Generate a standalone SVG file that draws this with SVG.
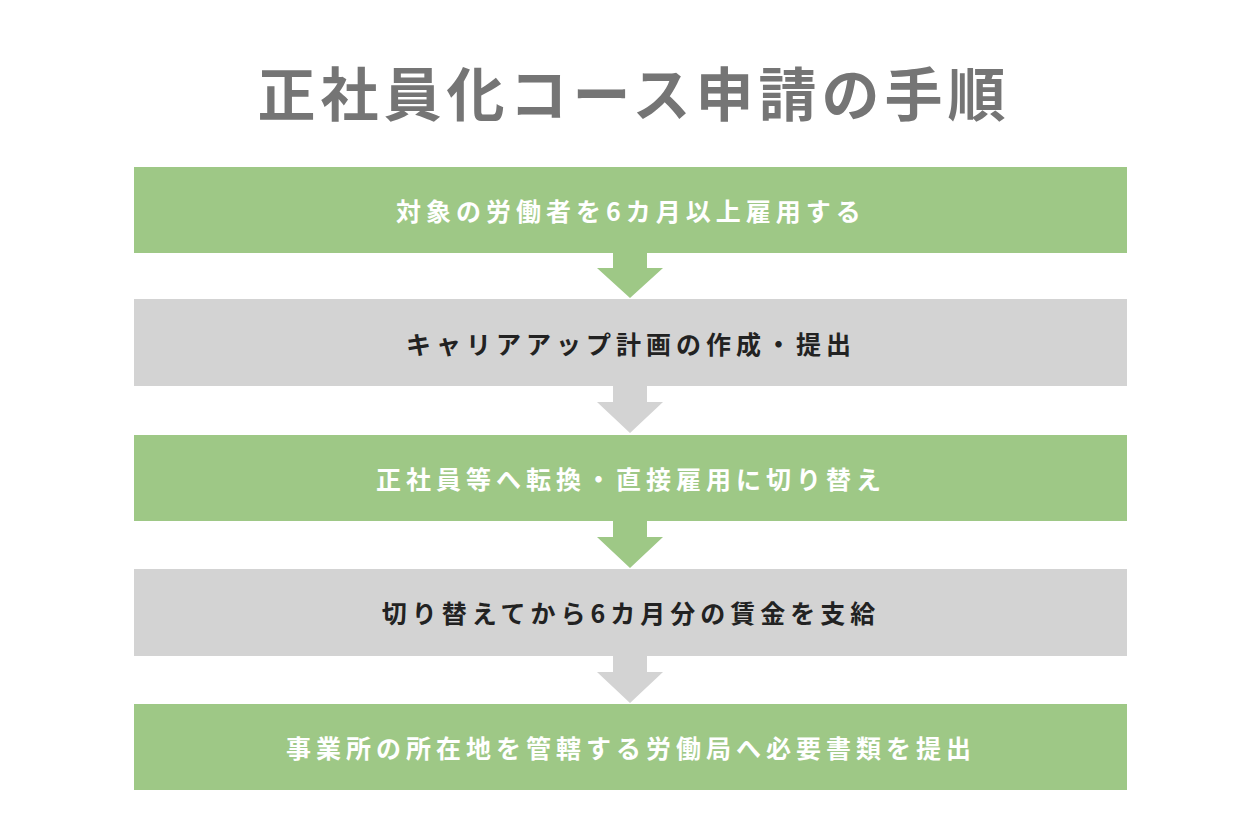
<svg xmlns="http://www.w3.org/2000/svg" width="1260" height="840" viewBox="0 0 1260 840">
<style>
.g{fill:#9ec886}.r{fill:#d3d3d3}
.t{font-family:"Noto Sans CJK JP",sans-serif;font-weight:bold;font-size:25px;letter-spacing:5px;text-anchor:middle;dominant-baseline:central}
.w{fill:#fff}.k{fill:#222}
</style>
<rect width="1260" height="840" fill="#fff"/>
<text x="634" y="91" font-family="Noto Sans CJK JP,sans-serif" font-weight="bold" font-size="58" letter-spacing="5" fill="#757575" text-anchor="middle" dominant-baseline="central">正社員化コース申請の手順</text>
<g id="connectors">
<polygon class="g" points="613,252 647,252 647,268 663,268 630,298 597,268 613,268"/>
<polygon class="r" points="613,386 647,386 647,402 663,402 630,433 597,402 613,402"/>
<polygon class="g" points="613,521 647,521 647,537 663,537 630,568 597,537 613,537"/>
<polygon class="r" points="613,656 647,656 647,672 663,672 630,703 597,672 613,672"/>
</g>
<g id="n1"><rect class="g" x="134" y="167" width="993" height="86"/><text class="t w" x="631" y="210">対象の労働者を6カ月以上雇用する</text></g>
<g id="n2"><rect class="r" x="134" y="299" width="993" height="87"/><text class="t k" x="631" y="343">キャリアアップ計画の作成・提出</text></g>
<g id="n3"><rect class="g" x="134" y="435" width="993" height="86"/><text class="t w" x="631" y="478">正社員等へ転換・直接雇用に切り替え</text></g>
<g id="n4"><rect class="r" x="134" y="569" width="993" height="87"/><text class="t k" x="631" y="612">切り替えてから6カ月分の賃金を支給</text></g>
<g id="n5"><rect class="g" x="134" y="704" width="993" height="86"/><text class="t w" x="631" y="747">事業所の所在地を管轄する労働局へ必要書類を提出</text></g>
</svg>
